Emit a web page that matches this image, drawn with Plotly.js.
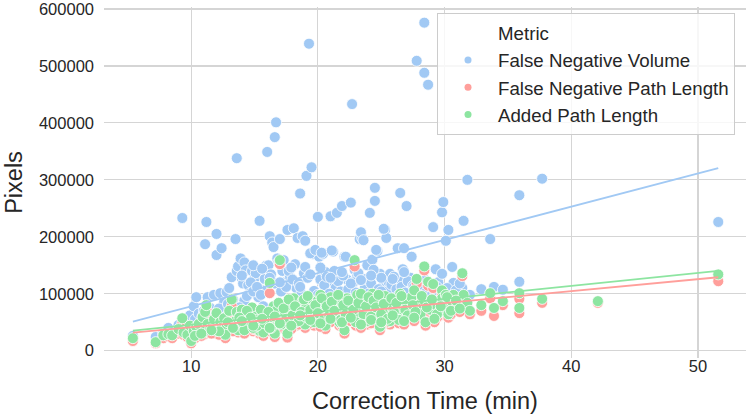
<!DOCTYPE html>
<html><head><meta charset="utf-8">
<script src="https://cdn.plot.ly/plotly-3.0.1.min.js"></script>
<style>html,body{margin:0;padding:0;background:#fff}#chart{width:749px;height:417px}</style>
</head><body><div id="chart"></div>
<script>
const correctionTime = [
5.4,7.2,7.8,8.2,8.5,9.0,9.3,9.4,9.7,9.9,
10.0,10.2,10.4,10.3,10.6,10.9,11.1,11.2,11.3,11.0,
11.5,11.8,12.0,12.0,12.3,12.4,12.6,12.8,12.7,13.0,
13.2,13.5,13.6,13.6,13.7,13.9,14.0,14.1,14.2,14.3,
14.5,14.6,14.8,15.0,15.1,15.3,15.4,15.6,15.7,15.9,
16.0,16.2,16.4,16.5,16.6,16.7,16.8,17.0,17.2,17.4,
17.6,17.8,18.1,18.3,18.4,18.6,18.8,19.0,19.1,19.3,
19.5,19.6,19.8,20.0,20.1,20.2,20.4,20.6,20.8,21.0,
21.2,21.4,21.5,21.7,21.9,22.1,22.3,22.6,22.7,22.9,
23.1,23.3,23.5,23.7,23.9,24.1,24.3,24.5,24.5,24.7,
24.9,25.1,25.3,25.4,25.6,25.7,25.9,26.1,26.3,26.5,
26.5,26.7,26.8,27.0,27.3,27.4,27.6,27.8,28.0,28.1,
28.4,28.4,28.7,28.9,29.1,29.3,29.5,29.8,29.8,29.9,
30.1,30.3,30.6,30.7,31.0,31.4,31.5,31.8,32.0,32.9,
33.6,33.9,34.6,35.9,35.9,37.7,42.1,51.6,
14.2,14.4,14.7,14.9,15.2,15.5,15.8,16.1,16.3,16.6,
16.9,17.1,17.3,17.5,17.7,18.0,18.2,18.5,18.7,18.9,
19.0,19.2,19.4,19.7,19.8,20.0,20.3,20.5,20.7,20.9,
21.1,21.3,21.6,21.8,22.0,22.2,22.4,22.8,23.0,23.2,
23.4,23.6,23.8,24.0,24.2,24.4,24.6,24.8,25.0,25.2,
25.5,25.8,26.0,26.2,26.4,26.6,26.9,27.1,27.5,27.7,
28.2,28.6,29.0,29.4,29.7,30.2,30.5,30.9,31.2,12.2,
12.9,13.3,13.8,11.6,10.8,
14.0,14.9,15.6,16.2,17.0,17.9,18.6,19.4,20.2,21.0,
21.9,22.6,23.4,24.2,25.0,25.9,26.8,27.6,28.5,29.2
];
const falseNegativeVolume = [
26000,24000,30000,40000,33000,45000,233000,36000,50000,62000,
42000,78000,94000,55000,65000,60000,187000,226000,94000,70000,
75000,98000,205000,168000,101000,180000,85000,103000,70000,110000,
129000,196000,338000,140000,148000,162000,127000,118000,155000,141000,
115000,100000,140000,127000,136000,94000,228000,106000,78000,149000,
349000,201000,190000,182000,375000,401000,162000,196000,140000,120000,
212000,130000,215000,110000,198000,276000,201000,193000,307000,539000,
322000,170000,175000,235000,165000,125000,170000,138000,120000,236000,
174000,110000,242000,100000,254000,165000,125000,260000,433000,142000,
130000,196000,198000,110000,150000,242000,160000,286000,263000,175000,
135000,112000,212000,198000,120000,135000,100000,95000,180000,277000,
121000,143000,180000,254000,128000,165000,106000,509000,96000,100000,
576000,488000,467000,110000,217000,143000,120000,243000,135000,261000,
193000,212000,147000,119000,104000,110000,228000,300000,98000,108000,
196000,112000,107000,273000,121000,302000,86000,226000,
88000,96000,120000,104000,112000,98000,126000,150000,134000,118000,
156000,104000,159000,112000,140000,125000,152000,118000,100000,136000,
147000,128000,171000,105000,177000,98000,172000,115000,130000,100000,
176000,140000,122000,104000,132000,165000,108000,120000,102000,136000,
208000,194000,126000,100000,118000,142000,177000,108000,128000,214000,
104000,116000,130000,108000,98000,112000,102000,122000,114000,100000,
116000,104000,98000,112000,102000,110000,96000,106000,118000,74000,
82000,90000,76000,64000,48000,
132000,150000,144000,128000,120000,146000,112000,134000,146000,128000,
138000,118000,124000,132000,104000,126000,138000,112000,124000,106000
];
const falseNegativePathLength = [
17000,13000,22000,25000,22000,30000,48000,28000,24000,36000,
13000,30000,38000,22000,40000,52000,60000,72000,42000,28000,
35000,48000,58000,30000,44000,34000,50000,38000,22000,62000,
78000,46000,60000,40000,32000,55000,65000,42000,50000,36000,
58000,44000,68000,40000,54000,48000,30000,62000,26000,56000,
44000,101000,40000,70000,24000,52000,64000,152000,48000,58000,
23000,72000,84000,44000,66000,52000,78000,40000,70000,84000,
56000,62000,48000,80000,74000,92000,58000,38000,66000,86000,
52000,70000,62000,44000,76000,30000,84000,60000,72000,148000,
90000,54000,68000,80000,46000,74000,94000,62000,84000,52000,
36000,70000,88000,60000,76000,46000,66000,82000,56000,72000,
92000,64000,50000,78000,60000,86000,98000,118000,72000,58000,
141000,80000,114000,66000,110000,74000,60000,100000,84000,68000,
90000,58000,78000,92000,70000,131000,90000,76000,64000,70000,
92000,61000,80000,91000,66000,84000,84000,122000,
30000,62000,52000,34000,36000,64000,42000,62000,36000,54000,
76000,40000,66000,50000,82000,56000,70000,46000,62000,82000,
54000,88000,64000,44000,72000,60000,84000,50000,70000,56000,
78000,64000,90000,48000,72000,58000,80000,66000,44000,76000,
92000,58000,70000,86000,54000,80000,68000,90000,58000,74000,
50000,84000,62000,76000,48000,88000,66000,56000,74000,62000,
88000,70000,82000,58000,72000,86000,64000,80000,68000,28000,
44000,34000,52000,30000,26000,
46000,38000,50000,34000,42000,38000,56000,48000,42000,50000,
44000,52000,40000,48000,44000,56000,46000,52000,44000,50000
];
const addedPathLength = [
22000,15000,27000,29000,27000,38000,57000,32000,28000,44000,
17000,35000,42000,26000,47000,59000,68000,80000,47000,33000,
38000,55000,66000,35000,50000,40000,57000,42000,28000,70000,
90000,52000,68000,44000,36000,62000,72000,48000,58000,40000,
66000,50000,76000,46000,60000,55000,35000,70000,32000,64000,
50000,119000,46000,78000,30000,60000,72000,159000,55000,66000,
30000,80000,92000,50000,74000,60000,88000,46000,78000,92000,
64000,70000,54000,88000,82000,98000,66000,44000,74000,94000,
58000,78000,70000,50000,84000,36000,92000,66000,80000,159000,
98000,60000,74000,88000,52000,82000,100000,70000,92000,58000,
42000,78000,96000,66000,84000,52000,74000,90000,62000,80000,
100000,70000,56000,86000,66000,94000,106000,126000,80000,64000,
148000,88000,121000,72000,117000,80000,66000,106000,92000,75000,
98000,64000,86000,98000,78000,136000,98000,84000,70000,80000,
101000,75000,87000,101000,75000,91000,87000,134000,
36000,70000,58000,40000,44000,72000,48000,68000,40000,60000,
84000,46000,74000,56000,90000,62000,78000,52000,68000,90000,
60000,96000,72000,50000,80000,66000,92000,56000,78000,62000,
86000,70000,98000,54000,80000,64000,88000,72000,50000,84000,
100000,64000,78000,94000,60000,88000,76000,98000,64000,82000,
56000,92000,68000,84000,54000,96000,72000,62000,80000,68000,
96000,76000,90000,64000,78000,94000,70000,88000,74000,34000,
50000,40000,58000,36000,30000,
52000,44000,56000,40000,48000,44000,62000,54000,48000,56000,
50000,58000,46000,54000,50000,62000,52000,58000,50000,56000
];
// fitted regression lines (endpoints at min/max correction time)
const fitTime = [5.4, 51.6];
const fitVolume = [51000, 320500];
const fitFnPath = [31600, 129000];
const fitAdded = [35100, 140000];

const seriesNames = ['False Negative Volume', 'False Negative Path Length', 'Added Path Length'];
const legendTitle = 'Metric';
const xTickVals = [10, 20, 30, 40, 50];
const yTickVals = [0, 100000, 200000, 300000, 400000, 500000, 600000];
const yTickText = ['0', '100000', '200000', '300000', '400000', '500000', '600000'];

const colors = ['#a1c9f4', '#ff9f9b', '#8de5a1'];
const seriesValues = [falseNegativeVolume, falseNegativePathLength, addedPathLength];
const fits = [fitVolume, fitFnPath, fitAdded];

const traces = [];
seriesValues.forEach((vals, i) => {
  traces.push({
    type: 'scatter', mode: 'markers', x: correctionTime, y: vals,
    name: seriesNames[i], showlegend: false, hoverinfo: 'skip',
    marker: {color: colors[i], size: 11, line: {color: '#ffffff', width: 0.8}}
  });
});
fits.forEach((f, i) => {
  traces.push({
    type: 'scatter', mode: 'lines', x: fitTime, y: f, showlegend: false,
    line: {color: colors[i], width: 1.8}, hoverinfo: 'skip'
  });
});
// legend entries
traces.push({type: 'scatter', mode: 'markers', x: [null], y: [null], name: legendTitle,
  marker: {color: 'rgba(0,0,0,0)', size: 7}});
seriesNames.forEach((n, i) => {
  traces.push({type: 'scatter', mode: 'markers', x: [null], y: [null], name: n,
    marker: {color: colors[i], size: 7}});
});

const layout = {
  width: 749, height: 417,
  margin: {l: 104, r: 3, t: 7, b: 59},
  paper_bgcolor: '#ffffff', plot_bgcolor: '#ffffff',
  font: {family: 'Liberation Sans, Arial, sans-serif', color: '#262626', size: 16.5},
  showlegend: true,
  xaxis: {
    range: [3.12, 53.79], tickvals: xTickVals, ticks: '', showline: false, zeroline: false,
    gridcolor: '#d5d5d5', gridwidth: 1.2, tickfont: {size: 16.5, color: '#262626'},
    ticklabelstandoff: -4, ticklabeloverflow: 'allow',
    title: {text: 'Correction Time (min)', font: {size: 23.5, color: '#262626'}, standoff: 19}
  },
  yaxis: {
    range: [-12830, 603500], tickvals: yTickVals, ticktext: yTickText, ticks: '', showline: false,
    zeroline: false, gridcolor: '#d5d5d5', gridwidth: 1.2, tickfont: {size: 16.5, color: '#262626'},
    ticklabelstandoff: 9, ticklabeloverflow: 'allow',
    title: {text: 'Pixels', font: {size: 23.5, color: '#262626'}, standoff: 9}
  },
  legend: {
    x: 0.5187, y: 0.983, xanchor: 'left', yanchor: 'top',
    bgcolor: 'rgba(255,255,255,0.8)', bordercolor: '#cccccc', borderwidth: 1,
    font: {size: 18.7, color: '#262626'}, itemwidth: 50
  }
};
Plotly.newPlot('chart', traces, layout, {displayModeBar: false, staticPlot: true});
</script></body></html>
